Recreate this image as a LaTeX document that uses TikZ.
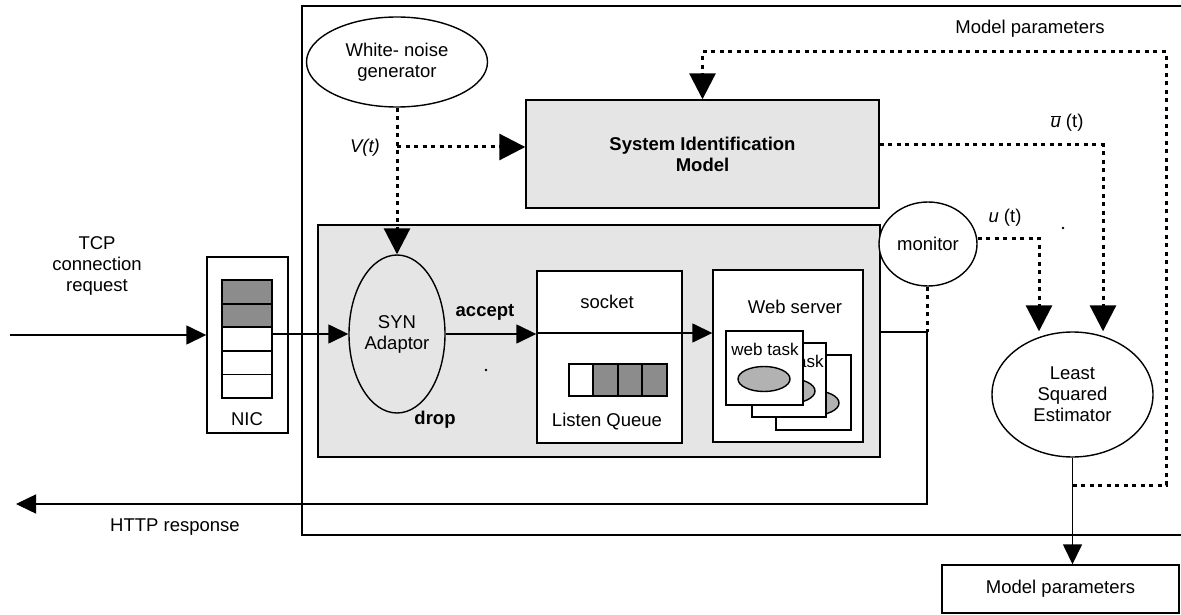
\documentclass[tikz,border=0pt]{standalone}
\usepackage{fontspec}
\setmainfont{Liberation Sans}
\usetikzlibrary{arrows.meta,shapes.geometric}
\newcommand\myfs{\fontsize{18.5}{21}\selectfont}
\begin{document}
\begin{tikzpicture}[x=1pt,y=-1pt,
  every node/.style={font=\myfs, inner sep=0pt},
  ln/.style={line width=1.4pt},
  box/.style={draw, line width=1.4pt, rectangle, inner sep=0pt},
  ell/.style={draw, line width=1.4pt, ellipse, inner sep=0pt},
  shade/.style={fill=black!10},
  cell/.style={draw, line width=1.4pt, fill=white, minimum width=50pt, minimum height=23.6pt},
  dcell/.style={cell, fill=black!45, line width=2.2pt},
  qcell/.style={draw, line width=2.2pt, fill=white, minimum width=24.5pt, minimum height=32pt},
  dqcell/.style={qcell, fill=black!45},
  card/.style={draw, line width=1.4pt, fill=white},
  task/.style={ell, fill=black!30, minimum width=52pt, minimum height=25pt},
  sarrow/.style={line width=1.5pt, -{Triangle[length=20pt,width=19pt]}},
  dline/.style={line width=3pt, dash pattern=on 4pt off 4.5pt},
  darrow/.style={dline, -{Triangle[length=26pt,width=26pt]}}]
\useasboundingbox (0,0) rectangle (1181,615);

% outer frame
\node[box, line width=1.7pt, minimum width=888pt, minimum height=529pt] (frame) at (746,270.5) {};

% white noise generator
\node[ell, fill=white, minimum width=181pt, minimum height=90pt, align=center] (wng) at (397,62) {White- noise\\generator};

% system identification model
\node[box, shade, minimum width=353pt, minimum height=108pt, align=center, font=\myfs\bfseries] (sim) at (702.5,154) {System Identification\\Model};

% inner shaded region
\node[box, shade, minimum width=562pt, minimum height=232pt] (inner) at (599,341) {};

% SYN adaptor
\node[ell, minimum width=96pt, minimum height=158pt, align=center] (syn) at (397,334) {SYN\\Adaptor};

% socket
\node[box, fill=white, minimum width=145pt, minimum height=172pt] (socket) at (609.5,357) {};
\coordinate (sockdiv) at (537,333);
\draw[ln] (socket.west |- sockdiv) -- (socket.east |- sockdiv);
\node (socklbl) at (607,302) {socket};
\node (lq) at (607,422) {Listen Queue};
\node[qcell] (q1) at (581,380) {};
\node[dqcell] (q2) at (605.5,380) {};
\node[dqcell] (q3) at (630,380) {};
\node[dqcell] (q4) at (654.5,380) {};

% web server
\node[box, fill=white, minimum width=150pt, minimum height=172pt] (websrv) at (788,356) {};
\node (wslbl) at (795,307) {Web server};
\node[card, minimum width=75pt, minimum height=75pt] (card3) at (813.5,392.5) {};
\node[task] (t3) at (813,403) {};
\node[card, minimum width=74pt, minimum height=74pt] (card2) at (789,380) {};
\node[font=\fontsize{17}{20}\selectfont] (c2lbl) at (790,361) {web task};
\node[task] (t2) at (789,391) {};
\node[card, minimum width=77pt, minimum height=74pt] (card1) at (764.5,368) {};
\node[font=\fontsize{17}{20}\selectfont] (c1lbl) at (765,349) {web task};
\node[task] (t1) at (764,379) {};

% NIC
\node[box, fill=white, minimum width=81pt, minimum height=176pt] (nic) at (247.5,345) {};
\node[dcell] (n1) at (247,291.8) {};
\node[dcell] (n2) at (247,315.4) {};
\node[cell] (n3) at (247,339) {};
\node[cell] (n4) at (247,362.6) {};
\node[cell] (n5) at (247,386.2) {};
\node (niclbl) at (247,419) {NIC};

% monitor
\node[ell, fill=white, minimum width=98pt, minimum height=84pt] (monitor) at (928,244) {monitor};

% least squared estimator
\node[ell, fill=white, minimum width=161pt, minimum height=125pt, align=center] (lse) at (1072.5,394.5) {Least\\Squared\\Estimator};

% model parameters box
\node[box, fill=white, minimum width=237pt, minimum height=48pt] (mp) at (1060.5,589) {Model parameters};

% labels
\node[align=center] (tcplbl) at (97,266) {TCP\\connection\\request};
\node (httplbl) at (175,527) {HTTP response};
\node[font=\myfs\itshape] (vlbl) at (365,148) {V(t)};
\node[font=\myfs\bfseries] (acclbl) at (485,312) {accept};
\node[font=\myfs\bfseries] (droplbl) at (435,420) {drop};
\node (mplbl) at (1030,29) {Model parameters};
\node (ubarlbl) at (1067,123) {$\overline{\mbox{\itshape u}}$ (t)};
\node (ulbl) at (1005,218) {{\itshape u} (t)};

% solid connectors
\coordinate (tcpin) at (10,335);
\draw[sarrow] (tcpin) -- (tcpin -| nic.west);
\draw[sarrow] (n3.east |- syn.west) -- (syn.west);
\draw[sarrow] (syn.east) -- (socket.west |- syn.east);
\draw[sarrow] (socket.east |- sockdiv) -- (websrv.west |- sockdiv);
\coordinate (mj) at (927,332);
\coordinate (httpend) at (16,504);
\draw[sarrow] (inner.east |- mj) -- (mj) -- (mj |- httpend) -- (httpend);
\draw[sarrow] (lse.south) -- (lse.south |- mp.north);

% dotted connectors
\draw[darrow] (wng.south) -- (syn.north);
\coordinate (vbr) at (397,147);
\draw[darrow] (vbr) -- (vbr -| sim.west);
\coordinate (fbr) at (1166,52);
\coordinate (mpf) at (1072.5,485);
\draw[darrow] (mpf) -- (mpf -| fbr) -- (fbr) -- (fbr -| sim.north) -- (sim.north);
\coordinate (ubar) at (1103,145);
\draw[darrow] (sim.east |- ubar) -- (ubar) -- (ubar |- lse.north);
\coordinate (ut) at (1039,238);
\draw[darrow] (monitor.east |- ut) -- (ut) -- (ut |- lse.north);
\draw[dline] (monitor.south -| mj) -- (mj);

% scan specks
\fill (1063,228) circle (1.3);
\fill (486,370) circle (1.3);
\end{tikzpicture}
\end{document}
